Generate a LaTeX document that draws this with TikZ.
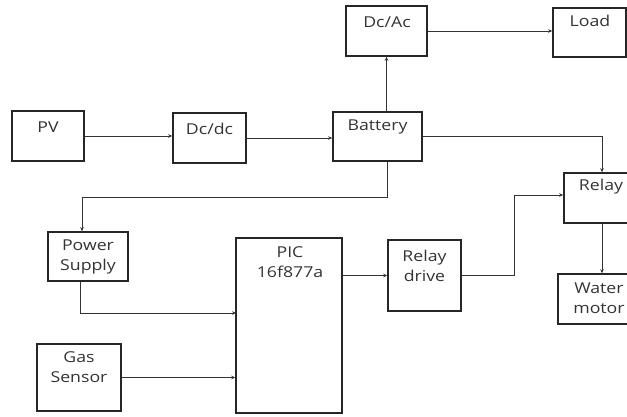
\documentclass[tikz,border=0pt]{standalone}
\usepackage{fontspec}
\setmainfont{Open Sans}[FakeStretch=1.18]
\usetikzlibrary{arrows.meta}
\begin{document}
\begin{tikzpicture}[x=1pt,y=-1pt,
  box/.style={draw, line width=1.5pt, inner sep=0pt, color=black!85},
  lbl/.style={font=\fontsize{15}{20}\selectfont, text=black!80, align=center, inner sep=0pt},
  arr/.style={line width=0.8pt, draw=black!80, -{Stealth[length=4pt,width=3.5pt]}},
  ln/.style={line width=0.8pt, draw=black!80}]
\useasboundingbox (0,0) rectangle (627,416);
\clip (0,0) rectangle (627,416);
% boxes
\node[box, minimum width=72pt, minimum height=50pt] (pv) at (48,136) {};
\node[box, minimum width=73pt, minimum height=50pt] (dcdc) at (209.5,138) {};
\node[box, minimum width=89pt, minimum height=49pt] (bat) at (377.5,136.5) {};
\node[box, minimum width=81pt, minimum height=50pt] (dcac) at (386.5,31) {};
\node[box, minimum width=73pt, minimum height=49pt] (load) at (589.5,32.5) {};
\node[box, minimum width=76pt, minimum height=50pt] (relay) at (602,198) {};
\node[box, minimum width=82pt, minimum height=50pt] (water) at (599,299) {};
\node[box, minimum width=73pt, minimum height=71pt] (rdrive) at (424.5,275.5) {};
\node[box, minimum width=106pt, minimum height=175pt] (pic) at (289,325.5) {};
\node[box, minimum width=80pt, minimum height=49pt] (ps) at (88,256.5) {};
\node[box, minimum width=84pt, minimum height=67pt] (gas) at (79,377.5) {};
% labels
\node[lbl] (tpv) at (48,127) {PV};
\node[lbl] (tdcdc) at (209.5,129) {Dc/dc};
\node[lbl] (tbat) at (377.5,127) {Battery};
\node[lbl] (tdcac) at (387,22) {Dc/Ac};
\node[lbl] (tload) at (590,21) {Load};
\node[lbl] (trelay) at (601,187) {Relay};
\node[lbl] (twater) at (599,298.5) {Water\\motor};
\node[lbl] (trd) at (424.5,265.5) {Relay\\drive};
\node[lbl] (tpic) at (290,262.5) {PIC\\16f877a};
\node[lbl] (tps) at (88,256.5) {Power\\Supply};
\node[lbl] (tgas) at (79,367.5) {Gas\\Sensor};
% junction coordinates
\coordinate (j1) at (387,197);
\coordinate (psin) at (236,313);
\coordinate (j2) at (514,195);
% connectors
\draw[arr] (pv.east) -- (pv.east -| dcdc.west);
\draw[arr] (dcdc.east) -- (dcdc.east -| bat.west);
\draw[arr] (dcac.south |- bat.north) -- (dcac.south);
\draw[arr] (dcac.east) -- (dcac.east -| load.west);
\draw[arr] (bat.east) -| (relay.north);
\draw[arr] (bat.south -| j1) -- (j1) -| ([xshift=-6pt]ps.north);
\draw[arr] ([xshift=-8pt]ps.south) |- (psin);
\draw[arr] (gas.east) -- (gas.east -| pic.west);
\draw[arr] (pic.east |- rdrive.west) -- (rdrive.west);
\draw[arr] (rdrive.east) -| (j2) -- (j2 -| relay.west);
\draw[arr] (relay.south) -- (relay.south |- water.north);
\end{tikzpicture}
\end{document}
